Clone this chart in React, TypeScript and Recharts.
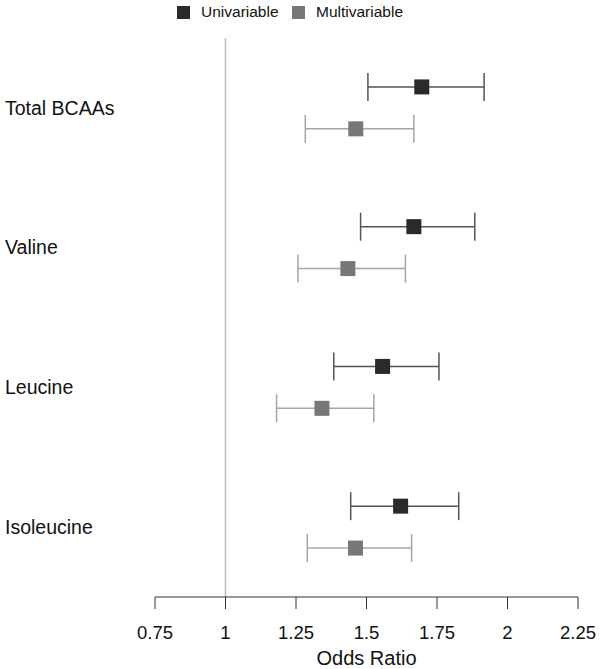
import {
  ComposedChart,
  Scatter,
  ErrorBar,
  XAxis,
  YAxis,
  ReferenceLine,
} from 'recharts'

const categories = ['Total BCAAs', 'Valine', 'Leucine', 'Isoleucine']

const uniOR = [1.696, 1.668, 1.557, 1.621]
const uniLow = [1.505, 1.479, 1.384, 1.444]
const uniHigh = [1.917, 1.884, 1.757, 1.827]

const multiOR = [1.462, 1.434, 1.342, 1.461]
const multiLow = [1.283, 1.257, 1.181, 1.29]
const multiHigh = [1.668, 1.638, 1.526, 1.66]

const xTicks = [0.75, 1, 1.25, 1.5, 1.75, 2, 2.25]

const FONT = '"Liberation Sans", Arial, sans-serif'
const UNI_COLOR = '#2a2a2a'
const UNI_LINE = '#555555'
const MULTI_COLOR = '#777777'
const MULTI_LINE = '#a6a6a6'

// row slots on a numeric y scale: 10 units per category, multivariable 3 below
const uniData = categories.map((c, i) => ({
  name: c,
  or: uniOR[i],
  pos: i * 10,
  err: [uniOR[i] - uniLow[i], uniHigh[i] - uniOR[i]],
}))
const multiData = categories.map((c, i) => ({
  name: c,
  or: multiOR[i],
  pos: i * 10 + 3,
  err: [multiOR[i] - multiLow[i], multiHigh[i] - multiOR[i]],
}))
const labelTicks = categories.map((_, i) => i * 10 + 1.5)

const squareShape = (fill: string) => (props: any) => (
  <rect x={props.cx - 7.5} y={props.cy - 7.5} width={15} height={15} fill={fill} />
)

function CategoryTick(props: any) {
  const idx = Math.round((props.payload.value - 1.5) / 10)
  return (
    <text x={5} y={props.y} dy="0.35em" fontSize={19.5} fill="#111" fontFamily={FONT}>
      {categories[idx]}
    </text>
  )
}

function LegendBox({ color, label, left }: { color: string; label: string; left: number }) {
  return (
    <div style={{ position: 'absolute', left, top: 3, display: 'flex', alignItems: 'center' }}>
      <div style={{ width: 13, height: 13, background: color }} />
      <span style={{ marginLeft: 11, fontSize: 15.5, color: '#111', fontFamily: FONT }}>{label}</span>
    </div>
  )
}

export default function App() {
  return (
    <div style={{ position: 'absolute', left: 0, top: 0, width: 601, height: 669, background: '#fff' }}>
      <LegendBox color={UNI_COLOR} label="Univariable" left={177} />
      <LegendBox color={MULTI_COLOR} label="Multivariable" left={292} />
      <ComposedChart
        width={601}
        height={669}
        margin={{ top: 38, right: 23, left: 0, bottom: 0 }}
        style={{ fontFamily: FONT }}
      >
        <XAxis
          type="number"
          dataKey="or"
          domain={[0.75, 2.25]}
          ticks={xTicks}
          allowDataOverflow
          height={72}
          tickSize={12}
          tickMargin={17}
          stroke="#333"
          tick={{ fontSize: 18.5, fill: '#111', fontFamily: FONT }}
          label={{
            value: 'Odds Ratio',
            position: 'insideBottom',
            offset: 4,
            fontSize: 20,
            fill: '#111',
            fontFamily: FONT,
          }}
        />
        <YAxis
          type="number"
          dataKey="pos"
          domain={[-3.5, 36.5]}
          reversed
          ticks={labelTicks}
          width={155}
          axisLine={false}
          tickLine={false}
          tick={<CategoryTick />}
        />
        <ReferenceLine x={1} stroke="#bdbdbd" strokeWidth={1.5} />
        <Scatter
          data={uniData}
          fill={UNI_COLOR}
          shape={squareShape(UNI_COLOR)}
          isAnimationActive={false}
        >
          <ErrorBar dataKey="err" direction="x" width={14} stroke={UNI_LINE} strokeWidth={1.5} />
        </Scatter>
        <Scatter
          data={multiData}
          fill={MULTI_COLOR}
          shape={squareShape(MULTI_COLOR)}
          isAnimationActive={false}
        >
          <ErrorBar dataKey="err" direction="x" width={14} stroke={MULTI_LINE} strokeWidth={1.5} />
        </Scatter>
      </ComposedChart>
    </div>
  )
}
